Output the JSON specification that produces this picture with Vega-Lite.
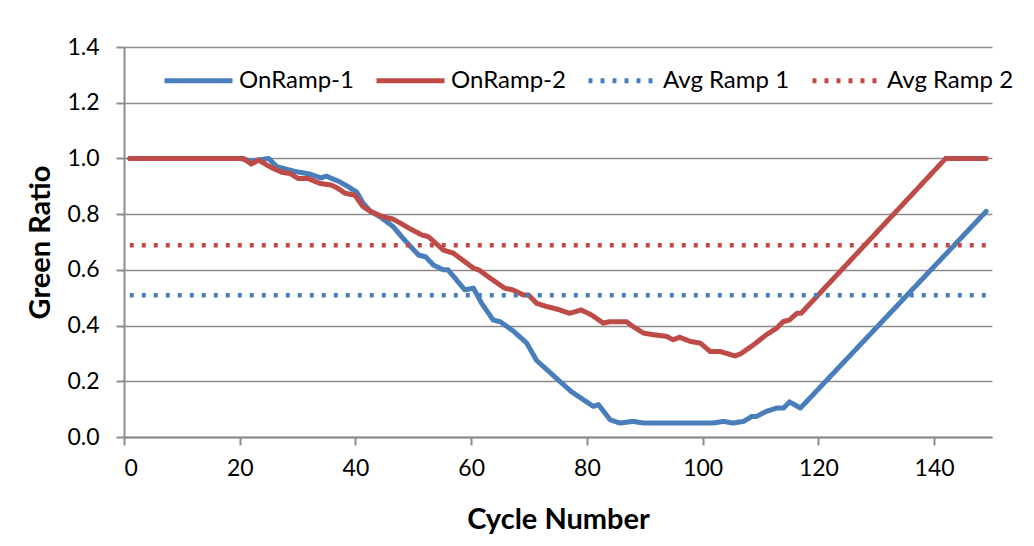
{
  "$schema": "https://vega.github.io/schema/vega-lite/v6.json",
  "width": 868,
  "height": 390,
  "autosize": {"type": "none"},
  "padding": {"left": 124, "top": 47, "right": 42, "bottom": 109},
  "background": "white",
  "config": {"view": {"stroke": null}, "font": "Lato"},
  "data": {"values": [
    {"series": "OnRamp-1", "cycle": 1, "ratio": 1.0},
    {"series": "OnRamp-1", "cycle": 20, "ratio": 1.0},
    {"series": "OnRamp-1", "cycle": 22, "ratio": 0.99},
    {"series": "OnRamp-1", "cycle": 25, "ratio": 1.0},
    {"series": "OnRamp-1", "cycle": 26.4, "ratio": 0.97},
    {"series": "OnRamp-1", "cycle": 29.8, "ratio": 0.952},
    {"series": "OnRamp-1", "cycle": 32.1, "ratio": 0.944},
    {"series": "OnRamp-1", "cycle": 34, "ratio": 0.93},
    {"series": "OnRamp-1", "cycle": 35, "ratio": 0.936},
    {"series": "OnRamp-1", "cycle": 37.3, "ratio": 0.916},
    {"series": "OnRamp-1", "cycle": 40.2, "ratio": 0.88},
    {"series": "OnRamp-1", "cycle": 41.3, "ratio": 0.84},
    {"series": "OnRamp-1", "cycle": 42.6, "ratio": 0.81},
    {"series": "OnRamp-1", "cycle": 44.3, "ratio": 0.79},
    {"series": "OnRamp-1", "cycle": 46.5, "ratio": 0.755},
    {"series": "OnRamp-1", "cycle": 48.8, "ratio": 0.7},
    {"series": "OnRamp-1", "cycle": 50.9, "ratio": 0.653},
    {"series": "OnRamp-1", "cycle": 52.1, "ratio": 0.647},
    {"series": "OnRamp-1", "cycle": 53.5, "ratio": 0.617},
    {"series": "OnRamp-1", "cycle": 55.2, "ratio": 0.6},
    {"series": "OnRamp-1", "cycle": 56, "ratio": 0.6},
    {"series": "OnRamp-1", "cycle": 58.9, "ratio": 0.528},
    {"series": "OnRamp-1", "cycle": 60.4, "ratio": 0.534},
    {"series": "OnRamp-1", "cycle": 61.8, "ratio": 0.48},
    {"series": "OnRamp-1", "cycle": 63.8, "ratio": 0.42},
    {"series": "OnRamp-1", "cycle": 65, "ratio": 0.414},
    {"series": "OnRamp-1", "cycle": 67.3, "ratio": 0.38},
    {"series": "OnRamp-1", "cycle": 69.6, "ratio": 0.337},
    {"series": "OnRamp-1", "cycle": 71.3, "ratio": 0.275},
    {"series": "OnRamp-1", "cycle": 73.6, "ratio": 0.232},
    {"series": "OnRamp-1", "cycle": 75.3, "ratio": 0.2},
    {"series": "OnRamp-1", "cycle": 77.3, "ratio": 0.163},
    {"series": "OnRamp-1", "cycle": 81.1, "ratio": 0.11},
    {"series": "OnRamp-1", "cycle": 82, "ratio": 0.116},
    {"series": "OnRamp-1", "cycle": 84, "ratio": 0.062},
    {"series": "OnRamp-1", "cycle": 85.7, "ratio": 0.05},
    {"series": "OnRamp-1", "cycle": 88, "ratio": 0.056},
    {"series": "OnRamp-1", "cycle": 89.8, "ratio": 0.05},
    {"series": "OnRamp-1", "cycle": 101.8, "ratio": 0.05},
    {"series": "OnRamp-1", "cycle": 103.6, "ratio": 0.056},
    {"series": "OnRamp-1", "cycle": 105.2, "ratio": 0.05},
    {"series": "OnRamp-1", "cycle": 107.1, "ratio": 0.056},
    {"series": "OnRamp-1", "cycle": 108.5, "ratio": 0.074},
    {"series": "OnRamp-1", "cycle": 109.3, "ratio": 0.074},
    {"series": "OnRamp-1", "cycle": 111, "ratio": 0.092},
    {"series": "OnRamp-1", "cycle": 112.8, "ratio": 0.104},
    {"series": "OnRamp-1", "cycle": 114, "ratio": 0.104},
    {"series": "OnRamp-1", "cycle": 115, "ratio": 0.126},
    {"series": "OnRamp-1", "cycle": 116.9, "ratio": 0.104},
    {"series": "OnRamp-1", "cycle": 149, "ratio": 0.81},
    {"series": "OnRamp-2", "cycle": 1, "ratio": 1.0},
    {"series": "OnRamp-2", "cycle": 20.6, "ratio": 1.0},
    {"series": "OnRamp-2", "cycle": 22, "ratio": 0.98},
    {"series": "OnRamp-2", "cycle": 23.3, "ratio": 0.994},
    {"series": "OnRamp-2", "cycle": 24.7, "ratio": 0.976},
    {"series": "OnRamp-2", "cycle": 25.8, "ratio": 0.964},
    {"series": "OnRamp-2", "cycle": 27.3, "ratio": 0.95},
    {"series": "OnRamp-2", "cycle": 28.7, "ratio": 0.946},
    {"series": "OnRamp-2", "cycle": 30.1, "ratio": 0.928},
    {"series": "OnRamp-2", "cycle": 31.8, "ratio": 0.928},
    {"series": "OnRamp-2", "cycle": 33.9, "ratio": 0.91},
    {"series": "OnRamp-2", "cycle": 35.9, "ratio": 0.904},
    {"series": "OnRamp-2", "cycle": 37, "ratio": 0.892},
    {"series": "OnRamp-2", "cycle": 38.2, "ratio": 0.875},
    {"series": "OnRamp-2", "cycle": 39.9, "ratio": 0.868},
    {"series": "OnRamp-2", "cycle": 41.3, "ratio": 0.827},
    {"series": "OnRamp-2", "cycle": 42.6, "ratio": 0.81},
    {"series": "OnRamp-2", "cycle": 44.8, "ratio": 0.79},
    {"series": "OnRamp-2", "cycle": 46.5, "ratio": 0.782},
    {"series": "OnRamp-2", "cycle": 48, "ratio": 0.765},
    {"series": "OnRamp-2", "cycle": 49.2, "ratio": 0.75},
    {"series": "OnRamp-2", "cycle": 51.5, "ratio": 0.725},
    {"series": "OnRamp-2", "cycle": 52.6, "ratio": 0.719},
    {"series": "OnRamp-2", "cycle": 55.2, "ratio": 0.671},
    {"series": "OnRamp-2", "cycle": 56.9, "ratio": 0.66},
    {"series": "OnRamp-2", "cycle": 60.4, "ratio": 0.606},
    {"series": "OnRamp-2", "cycle": 61.3, "ratio": 0.6},
    {"series": "OnRamp-2", "cycle": 63.3, "ratio": 0.57},
    {"series": "OnRamp-2", "cycle": 65.8, "ratio": 0.534},
    {"series": "OnRamp-2", "cycle": 67.2, "ratio": 0.528},
    {"series": "OnRamp-2", "cycle": 69, "ratio": 0.51},
    {"series": "OnRamp-2", "cycle": 69.9, "ratio": 0.51},
    {"series": "OnRamp-2", "cycle": 71.3, "ratio": 0.48},
    {"series": "OnRamp-2", "cycle": 73.1, "ratio": 0.468},
    {"series": "OnRamp-2", "cycle": 75.3, "ratio": 0.456},
    {"series": "OnRamp-2", "cycle": 77, "ratio": 0.444},
    {"series": "OnRamp-2", "cycle": 79, "ratio": 0.456},
    {"series": "OnRamp-2", "cycle": 80.8, "ratio": 0.438},
    {"series": "OnRamp-2", "cycle": 82.8, "ratio": 0.409},
    {"series": "OnRamp-2", "cycle": 84, "ratio": 0.414},
    {"series": "OnRamp-2", "cycle": 86.8, "ratio": 0.414},
    {"series": "OnRamp-2", "cycle": 88, "ratio": 0.396},
    {"series": "OnRamp-2", "cycle": 89.8, "ratio": 0.373},
    {"series": "OnRamp-2", "cycle": 91.5, "ratio": 0.367},
    {"series": "OnRamp-2", "cycle": 93.8, "ratio": 0.361},
    {"series": "OnRamp-2", "cycle": 94.9, "ratio": 0.349},
    {"series": "OnRamp-2", "cycle": 96, "ratio": 0.358},
    {"series": "OnRamp-2", "cycle": 97.9, "ratio": 0.343},
    {"series": "OnRamp-2", "cycle": 99.6, "ratio": 0.337},
    {"series": "OnRamp-2", "cycle": 101.3, "ratio": 0.307},
    {"series": "OnRamp-2", "cycle": 103, "ratio": 0.307},
    {"series": "OnRamp-2", "cycle": 105.6, "ratio": 0.291},
    {"series": "OnRamp-2", "cycle": 106.6, "ratio": 0.299},
    {"series": "OnRamp-2", "cycle": 108.8, "ratio": 0.331},
    {"series": "OnRamp-2", "cycle": 111, "ratio": 0.367},
    {"series": "OnRamp-2", "cycle": 112.8, "ratio": 0.391},
    {"series": "OnRamp-2", "cycle": 113.9, "ratio": 0.414},
    {"series": "OnRamp-2", "cycle": 115, "ratio": 0.42},
    {"series": "OnRamp-2", "cycle": 116.3, "ratio": 0.444},
    {"series": "OnRamp-2", "cycle": 117, "ratio": 0.444},
    {"series": "OnRamp-2", "cycle": 142, "ratio": 1.0},
    {"series": "OnRamp-2", "cycle": 149, "ratio": 1.0},
    {"series": "Avg Ramp 1", "cycle": 1, "ratio": 0.509},
    {"series": "Avg Ramp 1", "cycle": 149, "ratio": 0.509},
    {"series": "Avg Ramp 2", "cycle": 1, "ratio": 0.688},
    {"series": "Avg Ramp 2", "cycle": 149, "ratio": 0.688}
  ]},
  "encoding": {
    "x": {
      "field": "cycle", "type": "quantitative",
      "scale": {"domain": [0, 150], "nice": false, "zero": false},
      "axis": {
        "title": "Cycle Number", "values": [0, 20, 40, 60, 80, 100, 120, 140],
        "grid": false, "domainColor": "#8c8c8c", "domainWidth": 2,
        "tickColor": "#8c8c8c", "tickWidth": 2, "tickSize": 8,
        "labelFont": "Lato", "labelFontSize": 23, "labelColor": "#000", "labelPadding": 12,
        "titleFont": "Lato", "titleFontSize": 29, "titleFontWeight": "bold", "titleColor": "#000", "titlePadding": 25
      }
    },
    "y": {
      "field": "ratio", "type": "quantitative",
      "scale": {"domain": [0, 1.4], "nice": false},
      "axis": {
        "title": "Green Ratio", "values": [0, 0.2, 0.4, 0.6, 0.8, 1.0, 1.2, 1.4], "format": ".1f",
        "grid": true, "gridColor": "#8c8c8c", "gridWidth": 1.6,
        "domainColor": "#8c8c8c", "domainWidth": 2,
        "tickColor": "#8c8c8c", "tickWidth": 2, "tickSize": 8,
        "labelFont": "Lato", "labelFontSize": 23, "labelColor": "#000", "labelPadding": 17,
        "titleFont": "Lato", "titleFontSize": 29, "titleFontWeight": "bold", "titleColor": "#000", "titlePadding": 11
      }
    },
    "color": {
      "field": "series", "type": "nominal",
      "scale": {"domain": ["OnRamp-1", "OnRamp-2", "Avg Ramp 1", "Avg Ramp 2"], "range": ["#4a7ebb", "#be4b48", "#4a7ebb", "#be4b48"]},
      "legend": {
        "title": null, "orient": "none", "legendX": 38, "legendY": -3, "direction": "horizontal",
        "symbolType": "stroke", "symbolSize": 4624, "symbolStrokeWidth": 5,
        "labelFont": "Lato", "labelFontSize": 24, "labelColor": "#000", "labelOffset": 4,
        "columnPadding": 12, "labelLimit": 300
      }
    },
    "strokeDash": {
      "field": "series", "type": "nominal",
      "scale": {"domain": ["OnRamp-1", "OnRamp-2", "Avg Ramp 1", "Avg Ramp 2"], "range": [[1, 0], [1, 0], [4, 8], [4, 8]]},
      "legend": {
        "title": null, "orient": "none", "legendX": 38, "legendY": -3, "direction": "horizontal",
        "symbolType": "stroke", "symbolSize": 4624, "symbolStrokeWidth": 5,
        "labelFont": "Lato", "labelFontSize": 24, "labelColor": "#000", "labelOffset": 4,
        "columnPadding": 12, "labelLimit": 300
      }
    }
  },
  "layer": [
    {
      "transform": [{"filter": "indexof(datum.series, 'OnRamp') === 0"}],
      "mark": {"type": "line", "strokeWidth": 5, "strokeCap": "round", "strokeJoin": "round"}
    },
    {
      "transform": [{"filter": "indexof(datum.series, 'Avg') === 0"}],
      "mark": {"type": "line", "strokeWidth": 4.5, "strokeCap": "butt"}
    }
  ]
}
